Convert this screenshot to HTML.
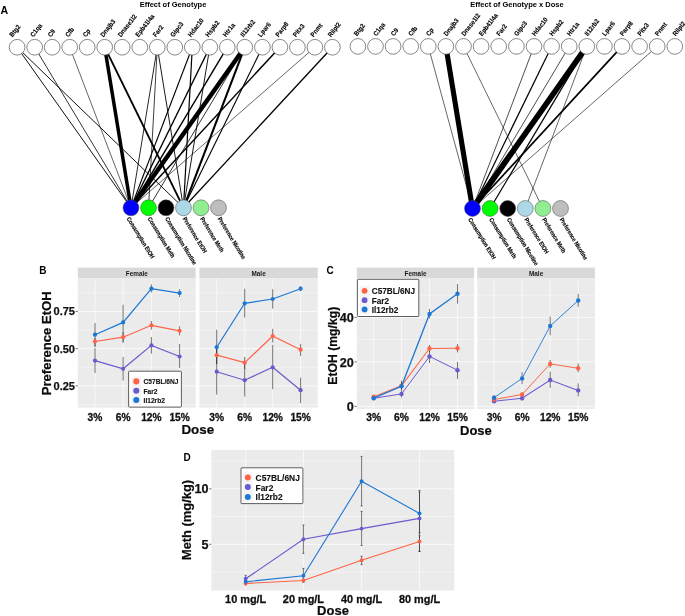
<!DOCTYPE html>
<html><head><meta charset="utf-8"><title>Figure</title>
<style>html,body{margin:0;padding:0;background:#fff;}svg{display:block;will-change:transform;}text{font-family:"Liberation Sans",sans-serif;}</style>
</head><body>
<svg width="685" height="616" viewBox="0 0 685 616">
<rect width="685" height="616" fill="#fff"/>
<text x="173" y="6.6" font-size="7.5" font-weight="bold" text-anchor="middle" font-family="Liberation Sans, sans-serif">Effect of Genotype</text>
<line x1="17.1" y1="47.2" x2="131.0" y2="207.8" stroke="#000" stroke-width="0.93"/>
<line x1="17.1" y1="47.2" x2="183.5" y2="207.8" stroke="#000" stroke-width="0.93"/>
<line x1="34.7" y1="47.2" x2="131.0" y2="207.8" stroke="#000" stroke-width="0.8"/>
<line x1="69.7" y1="47.2" x2="131.0" y2="207.8" stroke="#000" stroke-width="0.6"/>
<line x1="104.7" y1="47.2" x2="131.0" y2="207.8" stroke="#000" stroke-width="3.5"/>
<line x1="104.7" y1="47.2" x2="183.5" y2="207.8" stroke="#000" stroke-width="1.86"/>
<line x1="157.3" y1="47.2" x2="131.0" y2="207.8" stroke="#000" stroke-width="0.85"/>
<line x1="157.3" y1="47.2" x2="148.5" y2="207.8" stroke="#000" stroke-width="0.75"/>
<line x1="157.3" y1="47.2" x2="183.5" y2="207.8" stroke="#000" stroke-width="0.9"/>
<line x1="192.3" y1="47.2" x2="131.0" y2="207.8" stroke="#000" stroke-width="1.12"/>
<line x1="192.3" y1="47.2" x2="183.5" y2="207.8" stroke="#000" stroke-width="1.21"/>
<line x1="209.8" y1="47.2" x2="131.0" y2="207.8" stroke="#000" stroke-width="1.4"/>
<line x1="209.8" y1="47.2" x2="183.5" y2="207.8" stroke="#000" stroke-width="0.9"/>
<line x1="227.3" y1="47.2" x2="131.0" y2="207.8" stroke="#000" stroke-width="1.4"/>
<line x1="244.8" y1="47.2" x2="131.0" y2="207.8" stroke="#000" stroke-width="4.5"/>
<line x1="244.8" y1="47.2" x2="183.5" y2="207.8" stroke="#000" stroke-width="2.05"/>
<line x1="244.8" y1="47.2" x2="148.5" y2="207.8" stroke="#000" stroke-width="0.8"/>
<line x1="262.4" y1="47.2" x2="183.5" y2="207.8" stroke="#000" stroke-width="1.12"/>
<line x1="279.9" y1="47.2" x2="131.0" y2="207.8" stroke="#000" stroke-width="1.49"/>
<line x1="314.9" y1="47.2" x2="131.0" y2="207.8" stroke="#000" stroke-width="0.6"/>
<line x1="332.4" y1="47.2" x2="183.5" y2="207.8" stroke="#000" stroke-width="1.3"/>
<circle cx="17.1" cy="47.25" r="7.85" fill="#fff" stroke="#555" stroke-width="0.7"/>
<text transform="translate(12.6,37.4) rotate(-52) scale(0.9,1)" font-size="6.7" font-weight="bold" stroke="#000" stroke-width="0.12" font-family="Liberation Sans, sans-serif">Btg2</text>
<circle cx="34.7" cy="47.25" r="7.85" fill="#fff" stroke="#555" stroke-width="0.7"/>
<text transform="translate(33.4,37.4) rotate(-52) scale(0.9,1)" font-size="6.7" font-weight="bold" stroke="#000" stroke-width="0.12" font-family="Liberation Sans, sans-serif">C1qa</text>
<circle cx="52.2" cy="47.25" r="7.85" fill="#fff" stroke="#555" stroke-width="0.7"/>
<text transform="translate(50.9,37.4) rotate(-52) scale(0.9,1)" font-size="6.7" font-weight="bold" stroke="#000" stroke-width="0.12" font-family="Liberation Sans, sans-serif">C9</text>
<circle cx="69.7" cy="47.25" r="7.85" fill="#fff" stroke="#555" stroke-width="0.7"/>
<text transform="translate(68.4,37.4) rotate(-52) scale(0.9,1)" font-size="6.7" font-weight="bold" stroke="#000" stroke-width="0.12" font-family="Liberation Sans, sans-serif">Cfb</text>
<circle cx="87.2" cy="47.25" r="7.85" fill="#fff" stroke="#555" stroke-width="0.7"/>
<text transform="translate(85.9,37.4) rotate(-52) scale(0.9,1)" font-size="6.7" font-weight="bold" stroke="#000" stroke-width="0.12" font-family="Liberation Sans, sans-serif">Cp</text>
<circle cx="104.7" cy="47.25" r="7.85" fill="#fff" stroke="#555" stroke-width="0.7"/>
<text transform="translate(103.4,37.4) rotate(-52) scale(0.9,1)" font-size="6.7" font-weight="bold" stroke="#000" stroke-width="0.12" font-family="Liberation Sans, sans-serif">Dnajb3</text>
<circle cx="122.2" cy="47.25" r="7.85" fill="#fff" stroke="#555" stroke-width="0.7"/>
<text transform="translate(120.9,37.4) rotate(-52) scale(0.9,1)" font-size="6.7" font-weight="bold" stroke="#000" stroke-width="0.12" font-family="Liberation Sans, sans-serif">Dnase1l2</text>
<circle cx="139.8" cy="47.25" r="7.85" fill="#fff" stroke="#555" stroke-width="0.7"/>
<text transform="translate(138.5,37.4) rotate(-52) scale(0.9,1)" font-size="6.7" font-weight="bold" stroke="#000" stroke-width="0.12" font-family="Liberation Sans, sans-serif">Epb41l4a</text>
<circle cx="157.3" cy="47.25" r="7.85" fill="#fff" stroke="#555" stroke-width="0.7"/>
<text transform="translate(156.0,37.4) rotate(-52) scale(0.9,1)" font-size="6.7" font-weight="bold" stroke="#000" stroke-width="0.12" font-family="Liberation Sans, sans-serif">Far2</text>
<circle cx="174.8" cy="47.25" r="7.85" fill="#fff" stroke="#555" stroke-width="0.7"/>
<text transform="translate(173.5,37.4) rotate(-52) scale(0.9,1)" font-size="6.7" font-weight="bold" stroke="#000" stroke-width="0.12" font-family="Liberation Sans, sans-serif">Gipc3</text>
<circle cx="192.3" cy="47.25" r="7.85" fill="#fff" stroke="#555" stroke-width="0.7"/>
<text transform="translate(191.0,37.4) rotate(-52) scale(0.9,1)" font-size="6.7" font-weight="bold" stroke="#000" stroke-width="0.12" font-family="Liberation Sans, sans-serif">Hdac10</text>
<circle cx="209.8" cy="47.25" r="7.85" fill="#fff" stroke="#555" stroke-width="0.7"/>
<text transform="translate(208.5,37.4) rotate(-52) scale(0.9,1)" font-size="6.7" font-weight="bold" stroke="#000" stroke-width="0.12" font-family="Liberation Sans, sans-serif">Hspb2</text>
<circle cx="227.3" cy="47.25" r="7.85" fill="#fff" stroke="#555" stroke-width="0.7"/>
<text transform="translate(226.0,37.4) rotate(-52) scale(0.9,1)" font-size="6.7" font-weight="bold" stroke="#000" stroke-width="0.12" font-family="Liberation Sans, sans-serif">Htr1a</text>
<circle cx="244.8" cy="47.25" r="7.85" fill="#fff" stroke="#555" stroke-width="0.7"/>
<text transform="translate(243.5,37.4) rotate(-52) scale(0.9,1)" font-size="6.7" font-weight="bold" stroke="#000" stroke-width="0.12" font-family="Liberation Sans, sans-serif">Il12rb2</text>
<circle cx="262.4" cy="47.25" r="7.85" fill="#fff" stroke="#555" stroke-width="0.7"/>
<text transform="translate(261.1,37.4) rotate(-52) scale(0.9,1)" font-size="6.7" font-weight="bold" stroke="#000" stroke-width="0.12" font-family="Liberation Sans, sans-serif">Lpar6</text>
<circle cx="279.9" cy="47.25" r="7.85" fill="#fff" stroke="#555" stroke-width="0.7"/>
<text transform="translate(278.6,37.4) rotate(-52) scale(0.9,1)" font-size="6.7" font-weight="bold" stroke="#000" stroke-width="0.12" font-family="Liberation Sans, sans-serif">Parp8</text>
<circle cx="297.4" cy="47.25" r="7.85" fill="#fff" stroke="#555" stroke-width="0.7"/>
<text transform="translate(296.1,37.4) rotate(-52) scale(0.9,1)" font-size="6.7" font-weight="bold" stroke="#000" stroke-width="0.12" font-family="Liberation Sans, sans-serif">Pitx3</text>
<circle cx="314.9" cy="47.25" r="7.85" fill="#fff" stroke="#555" stroke-width="0.7"/>
<text transform="translate(313.6,37.4) rotate(-52) scale(0.9,1)" font-size="6.7" font-weight="bold" stroke="#000" stroke-width="0.12" font-family="Liberation Sans, sans-serif">Pnmt</text>
<circle cx="332.4" cy="47.25" r="7.85" fill="#fff" stroke="#555" stroke-width="0.7"/>
<text transform="translate(331.1,37.4) rotate(-52) scale(0.9,1)" font-size="6.7" font-weight="bold" stroke="#000" stroke-width="0.12" font-family="Liberation Sans, sans-serif">Rilpl2</text>
<circle cx="131.0" cy="207.8" r="7.95" fill="#0000FF" stroke="#444" stroke-width="0.5"/>
<text transform="translate(126.6,218.7) rotate(58.5) scale(0.84,1)" font-size="6.1" font-weight="bold" stroke="#000" stroke-width="0.15" font-family="Liberation Sans, sans-serif">Consumption EtOH</text>
<circle cx="148.5" cy="207.8" r="7.95" fill="#00FF00" stroke="#444" stroke-width="0.5"/>
<text transform="translate(147.5,218.7) rotate(58.5) scale(0.84,1)" font-size="6.1" font-weight="bold" stroke="#000" stroke-width="0.15" font-family="Liberation Sans, sans-serif">Consumption Meth</text>
<circle cx="166.0" cy="207.8" r="7.95" fill="#000000" stroke="#444" stroke-width="0.5"/>
<text transform="translate(165.0,218.7) rotate(58.5) scale(0.84,1)" font-size="6.1" font-weight="bold" stroke="#000" stroke-width="0.15" font-family="Liberation Sans, sans-serif">Consumption Nicotine</text>
<circle cx="183.5" cy="207.8" r="7.95" fill="#ADD8E6" stroke="#444" stroke-width="0.5"/>
<text transform="translate(182.5,218.7) rotate(58.5) scale(0.84,1)" font-size="6.1" font-weight="bold" stroke="#000" stroke-width="0.15" font-family="Liberation Sans, sans-serif">Preference EtOH</text>
<circle cx="201.0" cy="207.8" r="7.95" fill="#90EE90" stroke="#444" stroke-width="0.5"/>
<text transform="translate(200.0,218.7) rotate(58.5) scale(0.84,1)" font-size="6.1" font-weight="bold" stroke="#000" stroke-width="0.15" font-family="Liberation Sans, sans-serif">Preference Meth</text>
<circle cx="218.5" cy="207.8" r="7.95" fill="#BEBEBE" stroke="#444" stroke-width="0.5"/>
<text transform="translate(217.5,218.7) rotate(58.5) scale(0.84,1)" font-size="6.1" font-weight="bold" stroke="#000" stroke-width="0.15" font-family="Liberation Sans, sans-serif">Preference Nicotine</text>
<text x="517" y="6.6" font-size="7.5" font-weight="bold" text-anchor="middle" font-family="Liberation Sans, sans-serif">Effect of Genotype x Dose</text>
<line x1="428.3" y1="46.4" x2="472.5" y2="208.5" stroke="#000" stroke-width="0.6"/>
<line x1="445.9" y1="46.4" x2="472.5" y2="208.5" stroke="#000" stroke-width="5.1"/>
<line x1="463.5" y1="46.4" x2="542.9" y2="208.5" stroke="#000" stroke-width="0.6"/>
<line x1="534.0" y1="46.4" x2="472.5" y2="208.5" stroke="#000" stroke-width="0.7"/>
<line x1="551.6" y1="46.4" x2="472.5" y2="208.5" stroke="#000" stroke-width="1.21"/>
<line x1="569.2" y1="46.4" x2="472.5" y2="208.5" stroke="#000" stroke-width="0.7"/>
<line x1="586.8" y1="46.4" x2="472.5" y2="208.5" stroke="#000" stroke-width="5.7"/>
<line x1="586.8" y1="46.4" x2="490.1" y2="208.5" stroke="#000" stroke-width="1.21"/>
<line x1="586.8" y1="46.4" x2="525.3" y2="208.5" stroke="#000" stroke-width="0.6"/>
<line x1="622.0" y1="46.4" x2="472.5" y2="208.5" stroke="#000" stroke-width="1.67"/>
<line x1="657.2" y1="46.4" x2="472.5" y2="208.5" stroke="#000" stroke-width="0.6"/>
<circle cx="357.9" cy="46.4" r="7.85" fill="#fff" stroke="#555" stroke-width="0.7"/>
<text transform="translate(357.0,36.5) rotate(-52) scale(0.9,1)" font-size="6.7" font-weight="bold" stroke="#000" stroke-width="0.12" font-family="Liberation Sans, sans-serif">Btg2</text>
<circle cx="375.5" cy="46.4" r="7.85" fill="#fff" stroke="#555" stroke-width="0.7"/>
<text transform="translate(376.4,36.5) rotate(-52) scale(0.9,1)" font-size="6.7" font-weight="bold" stroke="#000" stroke-width="0.12" font-family="Liberation Sans, sans-serif">C1qa</text>
<circle cx="393.1" cy="46.4" r="7.85" fill="#fff" stroke="#555" stroke-width="0.7"/>
<text transform="translate(394.0,36.5) rotate(-52) scale(0.9,1)" font-size="6.7" font-weight="bold" stroke="#000" stroke-width="0.12" font-family="Liberation Sans, sans-serif">C9</text>
<circle cx="410.7" cy="46.4" r="7.85" fill="#fff" stroke="#555" stroke-width="0.7"/>
<text transform="translate(411.6,36.5) rotate(-52) scale(0.9,1)" font-size="6.7" font-weight="bold" stroke="#000" stroke-width="0.12" font-family="Liberation Sans, sans-serif">Cfb</text>
<circle cx="428.3" cy="46.4" r="7.85" fill="#fff" stroke="#555" stroke-width="0.7"/>
<text transform="translate(429.2,36.5) rotate(-52) scale(0.9,1)" font-size="6.7" font-weight="bold" stroke="#000" stroke-width="0.12" font-family="Liberation Sans, sans-serif">Cp</text>
<circle cx="445.9" cy="46.4" r="7.85" fill="#fff" stroke="#555" stroke-width="0.7"/>
<text transform="translate(446.8,36.5) rotate(-52) scale(0.9,1)" font-size="6.7" font-weight="bold" stroke="#000" stroke-width="0.12" font-family="Liberation Sans, sans-serif">Dnajb3</text>
<circle cx="463.5" cy="46.4" r="7.85" fill="#fff" stroke="#555" stroke-width="0.7"/>
<text transform="translate(464.4,36.5) rotate(-52) scale(0.9,1)" font-size="6.7" font-weight="bold" stroke="#000" stroke-width="0.12" font-family="Liberation Sans, sans-serif">Dnase1l2</text>
<circle cx="481.1" cy="46.4" r="7.85" fill="#fff" stroke="#555" stroke-width="0.7"/>
<text transform="translate(482.0,36.5) rotate(-52) scale(0.9,1)" font-size="6.7" font-weight="bold" stroke="#000" stroke-width="0.12" font-family="Liberation Sans, sans-serif">Epb41l4a</text>
<circle cx="498.7" cy="46.4" r="7.85" fill="#fff" stroke="#555" stroke-width="0.7"/>
<text transform="translate(499.6,36.5) rotate(-52) scale(0.9,1)" font-size="6.7" font-weight="bold" stroke="#000" stroke-width="0.12" font-family="Liberation Sans, sans-serif">Far2</text>
<circle cx="516.4" cy="46.4" r="7.85" fill="#fff" stroke="#555" stroke-width="0.7"/>
<text transform="translate(517.3,36.5) rotate(-52) scale(0.9,1)" font-size="6.7" font-weight="bold" stroke="#000" stroke-width="0.12" font-family="Liberation Sans, sans-serif">Gipc3</text>
<circle cx="534.0" cy="46.4" r="7.85" fill="#fff" stroke="#555" stroke-width="0.7"/>
<text transform="translate(534.9,36.5) rotate(-52) scale(0.9,1)" font-size="6.7" font-weight="bold" stroke="#000" stroke-width="0.12" font-family="Liberation Sans, sans-serif">Hdac10</text>
<circle cx="551.6" cy="46.4" r="7.85" fill="#fff" stroke="#555" stroke-width="0.7"/>
<text transform="translate(552.5,36.5) rotate(-52) scale(0.9,1)" font-size="6.7" font-weight="bold" stroke="#000" stroke-width="0.12" font-family="Liberation Sans, sans-serif">Hspb2</text>
<circle cx="569.2" cy="46.4" r="7.85" fill="#fff" stroke="#555" stroke-width="0.7"/>
<text transform="translate(570.1,36.5) rotate(-52) scale(0.9,1)" font-size="6.7" font-weight="bold" stroke="#000" stroke-width="0.12" font-family="Liberation Sans, sans-serif">Htr1a</text>
<circle cx="586.8" cy="46.4" r="7.85" fill="#fff" stroke="#555" stroke-width="0.7"/>
<text transform="translate(587.7,36.5) rotate(-52) scale(0.9,1)" font-size="6.7" font-weight="bold" stroke="#000" stroke-width="0.12" font-family="Liberation Sans, sans-serif">Il12rb2</text>
<circle cx="604.4" cy="46.4" r="7.85" fill="#fff" stroke="#555" stroke-width="0.7"/>
<text transform="translate(605.3,36.5) rotate(-52) scale(0.9,1)" font-size="6.7" font-weight="bold" stroke="#000" stroke-width="0.12" font-family="Liberation Sans, sans-serif">Lpar6</text>
<circle cx="622.0" cy="46.4" r="7.85" fill="#fff" stroke="#555" stroke-width="0.7"/>
<text transform="translate(622.9,36.5) rotate(-52) scale(0.9,1)" font-size="6.7" font-weight="bold" stroke="#000" stroke-width="0.12" font-family="Liberation Sans, sans-serif">Parp8</text>
<circle cx="639.6" cy="46.4" r="7.85" fill="#fff" stroke="#555" stroke-width="0.7"/>
<text transform="translate(640.5,36.5) rotate(-52) scale(0.9,1)" font-size="6.7" font-weight="bold" stroke="#000" stroke-width="0.12" font-family="Liberation Sans, sans-serif">Pitx3</text>
<circle cx="657.2" cy="46.4" r="7.85" fill="#fff" stroke="#555" stroke-width="0.7"/>
<text transform="translate(658.1,36.5) rotate(-52) scale(0.9,1)" font-size="6.7" font-weight="bold" stroke="#000" stroke-width="0.12" font-family="Liberation Sans, sans-serif">Pnmt</text>
<circle cx="674.8" cy="46.4" r="7.85" fill="#fff" stroke="#555" stroke-width="0.7"/>
<text transform="translate(675.7,36.5) rotate(-52) scale(0.9,1)" font-size="6.7" font-weight="bold" stroke="#000" stroke-width="0.12" font-family="Liberation Sans, sans-serif">Rilpl2</text>
<circle cx="472.5" cy="208.5" r="7.95" fill="#0000FF" stroke="#444" stroke-width="0.5"/>
<text transform="translate(468.1,219.4) rotate(58.5) scale(0.84,1)" font-size="6.1" font-weight="bold" stroke="#000" stroke-width="0.15" font-family="Liberation Sans, sans-serif">Consumption EtOH</text>
<circle cx="490.1" cy="208.5" r="7.95" fill="#00FF00" stroke="#444" stroke-width="0.5"/>
<text transform="translate(489.1,219.4) rotate(58.5) scale(0.84,1)" font-size="6.1" font-weight="bold" stroke="#000" stroke-width="0.15" font-family="Liberation Sans, sans-serif">Consumption Meth</text>
<circle cx="507.7" cy="208.5" r="7.95" fill="#000000" stroke="#444" stroke-width="0.5"/>
<text transform="translate(506.7,219.4) rotate(58.5) scale(0.84,1)" font-size="6.1" font-weight="bold" stroke="#000" stroke-width="0.15" font-family="Liberation Sans, sans-serif">Consumption Nicotine</text>
<circle cx="525.3" cy="208.5" r="7.95" fill="#ADD8E6" stroke="#444" stroke-width="0.5"/>
<text transform="translate(524.3,219.4) rotate(58.5) scale(0.84,1)" font-size="6.1" font-weight="bold" stroke="#000" stroke-width="0.15" font-family="Liberation Sans, sans-serif">Preference EtOH</text>
<circle cx="542.9" cy="208.5" r="7.95" fill="#90EE90" stroke="#444" stroke-width="0.5"/>
<text transform="translate(541.9,219.4) rotate(58.5) scale(0.84,1)" font-size="6.1" font-weight="bold" stroke="#000" stroke-width="0.15" font-family="Liberation Sans, sans-serif">Preference Meth</text>
<circle cx="560.5" cy="208.5" r="7.95" fill="#BEBEBE" stroke="#444" stroke-width="0.5"/>
<text transform="translate(559.5,219.4) rotate(58.5) scale(0.84,1)" font-size="6.1" font-weight="bold" stroke="#000" stroke-width="0.15" font-family="Liberation Sans, sans-serif">Preference Nicotine</text>
<text x="0.4" y="14.2" font-size="10.6" font-weight="bold" font-family="Liberation Sans, sans-serif">A</text>
<text x="39.2" y="274.2" font-size="10" font-weight="bold" font-family="Liberation Sans, sans-serif">B</text>
<rect x="77.8" y="267.6" width="117.9" height="10.8" fill="#D9D9D9"/>
<text x="136.8" y="276.1" font-size="6.4" font-weight="bold" fill="#1a1a1a" text-anchor="middle" font-family="Liberation Sans, sans-serif">Female</text>
<rect x="199.4" y="267.6" width="118.3" height="10.8" fill="#D9D9D9"/>
<text x="258.6" y="276.1" font-size="6.4" font-weight="bold" fill="#1a1a1a" text-anchor="middle" font-family="Liberation Sans, sans-serif">Male</text>
<rect x="77.8" y="278.4" width="117.9" height="129.2" fill="#EBEBEB"/>
<line x1="77.8" x2="195.7" y1="292.8" y2="292.8" stroke="#fff" stroke-width="0.45"/>
<line x1="77.8" x2="195.7" y1="330.0" y2="330.0" stroke="#fff" stroke-width="0.45"/>
<line x1="77.8" x2="195.7" y1="367.2" y2="367.2" stroke="#fff" stroke-width="0.45"/>
<line x1="77.8" x2="195.7" y1="404.5" y2="404.5" stroke="#fff" stroke-width="0.45"/>
<line x1="77.8" x2="195.7" y1="311.4" y2="311.4" stroke="#fff" stroke-width="0.75"/>
<line x1="77.8" x2="195.7" y1="348.6" y2="348.6" stroke="#fff" stroke-width="0.75"/>
<line x1="77.8" x2="195.7" y1="385.9" y2="385.9" stroke="#fff" stroke-width="0.75"/>
<line x1="95.0" x2="95.0" y1="278.4" y2="407.6" stroke="#fff" stroke-width="0.65"/>
<line x1="123.1" x2="123.1" y1="278.4" y2="407.6" stroke="#fff" stroke-width="0.65"/>
<line x1="151.4" x2="151.4" y1="278.4" y2="407.6" stroke="#fff" stroke-width="0.65"/>
<line x1="179.6" x2="179.6" y1="278.4" y2="407.6" stroke="#fff" stroke-width="0.65"/>
<rect x="199.4" y="278.4" width="118.3" height="129.2" fill="#EBEBEB"/>
<line x1="199.4" x2="317.7" y1="292.8" y2="292.8" stroke="#fff" stroke-width="0.45"/>
<line x1="199.4" x2="317.7" y1="330.0" y2="330.0" stroke="#fff" stroke-width="0.45"/>
<line x1="199.4" x2="317.7" y1="367.2" y2="367.2" stroke="#fff" stroke-width="0.45"/>
<line x1="199.4" x2="317.7" y1="404.5" y2="404.5" stroke="#fff" stroke-width="0.45"/>
<line x1="199.4" x2="317.7" y1="311.4" y2="311.4" stroke="#fff" stroke-width="0.75"/>
<line x1="199.4" x2="317.7" y1="348.6" y2="348.6" stroke="#fff" stroke-width="0.75"/>
<line x1="199.4" x2="317.7" y1="385.9" y2="385.9" stroke="#fff" stroke-width="0.75"/>
<line x1="216.7" x2="216.7" y1="278.4" y2="407.6" stroke="#fff" stroke-width="0.65"/>
<line x1="244.7" x2="244.7" y1="278.4" y2="407.6" stroke="#fff" stroke-width="0.65"/>
<line x1="272.7" x2="272.7" y1="278.4" y2="407.6" stroke="#fff" stroke-width="0.65"/>
<line x1="300.6" x2="300.6" y1="278.4" y2="407.6" stroke="#fff" stroke-width="0.65"/>
<line x1="95.0" x2="95.0" y1="323.0" y2="346.7" stroke="#303030" stroke-width="0.65"/>
<line x1="123.1" x2="123.1" y1="304.8" y2="342.0" stroke="#303030" stroke-width="0.65"/>
<line x1="151.4" x2="151.4" y1="284.4" y2="292.4" stroke="#303030" stroke-width="0.65"/>
<line x1="179.6" x2="179.6" y1="289.2" y2="297.0" stroke="#303030" stroke-width="0.65"/>
<line x1="95.0" x2="95.0" y1="338.0" y2="346.7" stroke="#303030" stroke-width="0.65"/>
<line x1="123.1" x2="123.1" y1="332.0" y2="342.8" stroke="#303030" stroke-width="0.65"/>
<line x1="151.4" x2="151.4" y1="321.0" y2="329.6" stroke="#303030" stroke-width="0.65"/>
<line x1="179.6" x2="179.6" y1="326.3" y2="335.4" stroke="#303030" stroke-width="0.65"/>
<line x1="95.0" x2="95.0" y1="348.0" y2="373.0" stroke="#303030" stroke-width="0.65"/>
<line x1="123.1" x2="123.1" y1="357.0" y2="380.5" stroke="#303030" stroke-width="0.65"/>
<line x1="151.4" x2="151.4" y1="337.0" y2="353.6" stroke="#303030" stroke-width="0.65"/>
<line x1="179.6" x2="179.6" y1="344.0" y2="368.0" stroke="#303030" stroke-width="0.65"/>
<line x1="216.7" x2="216.7" y1="329.7" y2="364.0" stroke="#303030" stroke-width="0.65"/>
<line x1="244.7" x2="244.7" y1="288.8" y2="317.5" stroke="#303030" stroke-width="0.65"/>
<line x1="272.7" x2="272.7" y1="289.2" y2="308.7" stroke="#303030" stroke-width="0.65"/>
<line x1="300.6" x2="300.6" y1="286.3" y2="291.2" stroke="#303030" stroke-width="0.65"/>
<line x1="216.7" x2="216.7" y1="346.0" y2="364.0" stroke="#303030" stroke-width="0.65"/>
<line x1="244.7" x2="244.7" y1="357.0" y2="369.0" stroke="#303030" stroke-width="0.65"/>
<line x1="272.7" x2="272.7" y1="328.8" y2="342.4" stroke="#303030" stroke-width="0.65"/>
<line x1="300.6" x2="300.6" y1="343.8" y2="356.0" stroke="#303030" stroke-width="0.65"/>
<line x1="216.7" x2="216.7" y1="349.0" y2="394.7" stroke="#303030" stroke-width="0.65"/>
<line x1="244.7" x2="244.7" y1="364.0" y2="396.6" stroke="#303030" stroke-width="0.65"/>
<line x1="272.7" x2="272.7" y1="345.0" y2="389.2" stroke="#303030" stroke-width="0.65"/>
<line x1="300.6" x2="300.6" y1="377.7" y2="403.2" stroke="#303030" stroke-width="0.65"/>
<polyline points="95.0,360.6 123.1,368.8 151.4,345.4 179.6,356.5" fill="none" stroke="#6A5ACD" stroke-width="1.2"/>
<circle cx="95.0" cy="360.6" r="2.1" fill="#6A5ACD"/>
<circle cx="123.1" cy="368.8" r="2.1" fill="#6A5ACD"/>
<circle cx="151.4" cy="345.4" r="2.1" fill="#6A5ACD"/>
<circle cx="179.6" cy="356.5" r="2.1" fill="#6A5ACD"/>
<polyline points="95.0,341.5 123.1,337.2 151.4,325.3 179.6,330.8" fill="none" stroke="#FF6347" stroke-width="1.2"/>
<circle cx="95.0" cy="341.5" r="2.1" fill="#FF6347"/>
<circle cx="123.1" cy="337.2" r="2.1" fill="#FF6347"/>
<circle cx="151.4" cy="325.3" r="2.1" fill="#FF6347"/>
<circle cx="179.6" cy="330.8" r="2.1" fill="#FF6347"/>
<polyline points="95.0,334.7 123.1,322.4 151.4,288.7 179.6,293.1" fill="none" stroke="#1C78D4" stroke-width="1.2"/>
<circle cx="95.0" cy="334.7" r="2.1" fill="#1C78D4"/>
<circle cx="123.1" cy="322.4" r="2.1" fill="#1C78D4"/>
<circle cx="151.4" cy="288.7" r="2.1" fill="#1C78D4"/>
<circle cx="179.6" cy="293.1" r="2.1" fill="#1C78D4"/>
<polyline points="216.7,371.7 244.7,380.2 272.7,367.3 300.6,390.2" fill="none" stroke="#6A5ACD" stroke-width="1.2"/>
<circle cx="216.7" cy="371.7" r="2.1" fill="#6A5ACD"/>
<circle cx="244.7" cy="380.2" r="2.1" fill="#6A5ACD"/>
<circle cx="272.7" cy="367.3" r="2.1" fill="#6A5ACD"/>
<circle cx="300.6" cy="390.2" r="2.1" fill="#6A5ACD"/>
<polyline points="216.7,355.2 244.7,362.7 272.7,336.0 300.6,349.7" fill="none" stroke="#FF6347" stroke-width="1.2"/>
<circle cx="216.7" cy="355.2" r="2.1" fill="#FF6347"/>
<circle cx="244.7" cy="362.7" r="2.1" fill="#FF6347"/>
<circle cx="272.7" cy="336.0" r="2.1" fill="#FF6347"/>
<circle cx="300.6" cy="349.7" r="2.1" fill="#FF6347"/>
<polyline points="216.7,347.2 244.7,303.3 272.7,299.0 300.6,288.7" fill="none" stroke="#1C78D4" stroke-width="1.2"/>
<circle cx="216.7" cy="347.2" r="2.1" fill="#1C78D4"/>
<circle cx="244.7" cy="303.3" r="2.1" fill="#1C78D4"/>
<circle cx="272.7" cy="299.0" r="2.1" fill="#1C78D4"/>
<circle cx="300.6" cy="288.7" r="2.1" fill="#1C78D4"/>
<rect x="128.6" y="371.2" width="52.8" height="35.9" rx="0.8" fill="#fff" stroke="#4d4d4d" stroke-width="0.9"/>
<rect x="131.6" y="376.7" width="9.4" height="28.2" fill="#F4F4F4"/>
<circle cx="136.3" cy="381.4" r="3.05" fill="#FF6347"/>
<text x="143.6" y="384.3" font-size="6.6" font-weight="bold" fill="#111" stroke="#111" stroke-width="0.12" font-family="Liberation Sans, sans-serif">C57BL/6NJ</text>
<circle cx="136.3" cy="390.8" r="3.05" fill="#6A5ACD"/>
<text x="143.6" y="393.7" font-size="6.6" font-weight="bold" fill="#111" stroke="#111" stroke-width="0.12" font-family="Liberation Sans, sans-serif">Far2</text>
<circle cx="136.3" cy="400.0" r="3.05" fill="#1C78D4"/>
<text x="143.6" y="402.9" font-size="6.6" font-weight="bold" fill="#111" stroke="#111" stroke-width="0.12" font-family="Liberation Sans, sans-serif">Il12rb2</text>
<text transform="translate(95.0,420.6) scale(0.93,1)" font-size="11.0" font-weight="bold" fill="#111" stroke="#111" stroke-width="0.3" text-anchor="middle" font-family="Liberation Sans, sans-serif">3%</text>
<text transform="translate(123.1,420.6) scale(0.93,1)" font-size="11.0" font-weight="bold" fill="#111" stroke="#111" stroke-width="0.3" text-anchor="middle" font-family="Liberation Sans, sans-serif">6%</text>
<text transform="translate(151.4,420.6) scale(0.93,1)" font-size="11.0" font-weight="bold" fill="#111" stroke="#111" stroke-width="0.3" text-anchor="middle" font-family="Liberation Sans, sans-serif">12%</text>
<text transform="translate(179.6,420.6) scale(0.93,1)" font-size="11.0" font-weight="bold" fill="#111" stroke="#111" stroke-width="0.3" text-anchor="middle" font-family="Liberation Sans, sans-serif">15%</text>
<text transform="translate(216.7,420.6) scale(0.93,1)" font-size="11.0" font-weight="bold" fill="#111" stroke="#111" stroke-width="0.3" text-anchor="middle" font-family="Liberation Sans, sans-serif">3%</text>
<text transform="translate(244.7,420.6) scale(0.93,1)" font-size="11.0" font-weight="bold" fill="#111" stroke="#111" stroke-width="0.3" text-anchor="middle" font-family="Liberation Sans, sans-serif">6%</text>
<text transform="translate(272.7,420.6) scale(0.93,1)" font-size="11.0" font-weight="bold" fill="#111" stroke="#111" stroke-width="0.3" text-anchor="middle" font-family="Liberation Sans, sans-serif">12%</text>
<text transform="translate(300.6,420.6) scale(0.93,1)" font-size="11.0" font-weight="bold" fill="#111" stroke="#111" stroke-width="0.3" text-anchor="middle" font-family="Liberation Sans, sans-serif">15%</text>
<text x="75.0" y="315.4" font-size="11" font-weight="bold" fill="#111" stroke="#111" stroke-width="0.25" text-anchor="end" font-family="Liberation Sans, sans-serif">0.75</text>
<line x1="75.6" x2="77.8" y1="311.4" y2="311.4" stroke="#333" stroke-width="0.7"/>
<text x="75.0" y="352.6" font-size="11" font-weight="bold" fill="#111" stroke="#111" stroke-width="0.25" text-anchor="end" font-family="Liberation Sans, sans-serif">0.50</text>
<line x1="75.6" x2="77.8" y1="348.6" y2="348.6" stroke="#333" stroke-width="0.7"/>
<text x="75.0" y="389.9" font-size="11" font-weight="bold" fill="#111" stroke="#111" stroke-width="0.25" text-anchor="end" font-family="Liberation Sans, sans-serif">0.25</text>
<line x1="75.6" x2="77.8" y1="385.9" y2="385.9" stroke="#333" stroke-width="0.7"/>
<text transform="translate(50.7,343.3) rotate(-90)" font-size="13.1" font-weight="bold" fill="#0a0a0a" stroke="#0a0a0a" stroke-width="0.2" text-anchor="middle" font-family="Liberation Sans, sans-serif">Preference EtOH</text>
<text x="197.8" y="433.8" font-size="13.4" font-weight="bold" fill="#0a0a0a" stroke="#0a0a0a" stroke-width="0.2" text-anchor="middle" font-family="Liberation Sans, sans-serif">Dose</text>
<text x="326.6" y="274.2" font-size="10" font-weight="bold" font-family="Liberation Sans, sans-serif">C</text>
<rect x="356.8" y="267.6" width="117.3" height="10.8" fill="#D9D9D9"/>
<text x="415.5" y="276.1" font-size="6.4" font-weight="bold" fill="#1a1a1a" text-anchor="middle" font-family="Liberation Sans, sans-serif">Female</text>
<rect x="477.3" y="267.6" width="117.6" height="10.8" fill="#D9D9D9"/>
<text x="536.1" y="276.1" font-size="6.4" font-weight="bold" fill="#1a1a1a" text-anchor="middle" font-family="Liberation Sans, sans-serif">Male</text>
<rect x="356.8" y="278.4" width="117.3" height="130.6" fill="#EBEBEB"/>
<line x1="356.8" x2="474.1" y1="384.1" y2="384.1" stroke="#fff" stroke-width="0.45"/>
<line x1="356.8" x2="474.1" y1="339.6" y2="339.6" stroke="#fff" stroke-width="0.45"/>
<line x1="356.8" x2="474.1" y1="295.1" y2="295.1" stroke="#fff" stroke-width="0.45"/>
<line x1="356.8" x2="474.1" y1="406.4" y2="406.4" stroke="#fff" stroke-width="0.75"/>
<line x1="356.8" x2="474.1" y1="361.9" y2="361.9" stroke="#fff" stroke-width="0.75"/>
<line x1="356.8" x2="474.1" y1="317.4" y2="317.4" stroke="#fff" stroke-width="0.75"/>
<line x1="373.7" x2="373.7" y1="278.4" y2="409.0" stroke="#fff" stroke-width="0.65"/>
<line x1="401.5" x2="401.5" y1="278.4" y2="409.0" stroke="#fff" stroke-width="0.65"/>
<line x1="429.5" x2="429.5" y1="278.4" y2="409.0" stroke="#fff" stroke-width="0.65"/>
<line x1="457.5" x2="457.5" y1="278.4" y2="409.0" stroke="#fff" stroke-width="0.65"/>
<rect x="477.3" y="278.4" width="117.6" height="130.6" fill="#EBEBEB"/>
<line x1="477.3" x2="594.9" y1="384.1" y2="384.1" stroke="#fff" stroke-width="0.45"/>
<line x1="477.3" x2="594.9" y1="339.6" y2="339.6" stroke="#fff" stroke-width="0.45"/>
<line x1="477.3" x2="594.9" y1="295.1" y2="295.1" stroke="#fff" stroke-width="0.45"/>
<line x1="477.3" x2="594.9" y1="406.4" y2="406.4" stroke="#fff" stroke-width="0.75"/>
<line x1="477.3" x2="594.9" y1="361.9" y2="361.9" stroke="#fff" stroke-width="0.75"/>
<line x1="477.3" x2="594.9" y1="317.4" y2="317.4" stroke="#fff" stroke-width="0.75"/>
<line x1="494.1" x2="494.1" y1="278.4" y2="409.0" stroke="#fff" stroke-width="0.65"/>
<line x1="522.1" x2="522.1" y1="278.4" y2="409.0" stroke="#fff" stroke-width="0.65"/>
<line x1="550.2" x2="550.2" y1="278.4" y2="409.0" stroke="#fff" stroke-width="0.65"/>
<line x1="578.2" x2="578.2" y1="278.4" y2="409.0" stroke="#fff" stroke-width="0.65"/>
<line x1="373.7" x2="373.7" y1="396.5" y2="400.0" stroke="#303030" stroke-width="0.65"/>
<line x1="401.5" x2="401.5" y1="380.7" y2="389.8" stroke="#303030" stroke-width="0.65"/>
<line x1="429.5" x2="429.5" y1="308.8" y2="318.4" stroke="#303030" stroke-width="0.65"/>
<line x1="457.5" x2="457.5" y1="284.1" y2="303.6" stroke="#303030" stroke-width="0.65"/>
<line x1="373.7" x2="373.7" y1="395.3" y2="398.6" stroke="#303030" stroke-width="0.65"/>
<line x1="401.5" x2="401.5" y1="382.0" y2="389.8" stroke="#303030" stroke-width="0.65"/>
<line x1="429.5" x2="429.5" y1="344.9" y2="352.1" stroke="#303030" stroke-width="0.65"/>
<line x1="457.5" x2="457.5" y1="344.0" y2="352.4" stroke="#303030" stroke-width="0.65"/>
<line x1="373.7" x2="373.7" y1="396.8" y2="399.8" stroke="#303030" stroke-width="0.65"/>
<line x1="401.5" x2="401.5" y1="389.8" y2="397.6" stroke="#303030" stroke-width="0.65"/>
<line x1="429.5" x2="429.5" y1="350.8" y2="363.0" stroke="#303030" stroke-width="0.65"/>
<line x1="457.5" x2="457.5" y1="362.0" y2="378.9" stroke="#303030" stroke-width="0.65"/>
<line x1="494.1" x2="494.1" y1="395.0" y2="400.2" stroke="#303030" stroke-width="0.65"/>
<line x1="522.1" x2="522.1" y1="372.2" y2="384.2" stroke="#303030" stroke-width="0.65"/>
<line x1="550.2" x2="550.2" y1="316.6" y2="335.3" stroke="#303030" stroke-width="0.65"/>
<line x1="578.2" x2="578.2" y1="293.8" y2="306.8" stroke="#303030" stroke-width="0.65"/>
<line x1="494.1" x2="494.1" y1="398.0" y2="401.0" stroke="#303030" stroke-width="0.65"/>
<line x1="522.1" x2="522.1" y1="392.5" y2="396.5" stroke="#303030" stroke-width="0.65"/>
<line x1="550.2" x2="550.2" y1="360.0" y2="367.8" stroke="#303030" stroke-width="0.65"/>
<line x1="578.2" x2="578.2" y1="363.4" y2="372.2" stroke="#303030" stroke-width="0.65"/>
<line x1="494.1" x2="494.1" y1="399.8" y2="402.8" stroke="#303030" stroke-width="0.65"/>
<line x1="522.1" x2="522.1" y1="396.0" y2="400.4" stroke="#303030" stroke-width="0.65"/>
<line x1="550.2" x2="550.2" y1="371.7" y2="387.8" stroke="#303030" stroke-width="0.65"/>
<line x1="578.2" x2="578.2" y1="383.4" y2="396.4" stroke="#303030" stroke-width="0.65"/>
<polyline points="373.7,398.3 401.5,393.9 429.5,356.4 457.5,370.2" fill="none" stroke="#6A5ACD" stroke-width="1.0"/>
<circle cx="373.7" cy="398.3" r="2.2" fill="#6A5ACD"/>
<circle cx="401.5" cy="393.9" r="2.2" fill="#6A5ACD"/>
<circle cx="429.5" cy="356.4" r="2.2" fill="#6A5ACD"/>
<circle cx="457.5" cy="370.2" r="2.2" fill="#6A5ACD"/>
<polyline points="373.7,396.8 401.5,385.7 429.5,348.4 457.5,348.2" fill="none" stroke="#FF6347" stroke-width="1.05"/>
<circle cx="373.7" cy="396.8" r="2.2" fill="#FF6347"/>
<circle cx="401.5" cy="385.7" r="2.2" fill="#FF6347"/>
<circle cx="429.5" cy="348.4" r="2.2" fill="#FF6347"/>
<circle cx="457.5" cy="348.2" r="2.2" fill="#FF6347"/>
<polyline points="373.7,398.1 401.5,386.3 429.5,314.0 457.5,293.7" fill="none" stroke="#1C78D4" stroke-width="1.3"/>
<circle cx="373.7" cy="398.1" r="2.2" fill="#1C78D4"/>
<circle cx="401.5" cy="386.3" r="2.2" fill="#1C78D4"/>
<circle cx="429.5" cy="314.0" r="2.2" fill="#1C78D4"/>
<circle cx="457.5" cy="293.7" r="2.2" fill="#1C78D4"/>
<polyline points="494.1,401.3 522.1,398.2 550.2,380.0 578.2,390.4" fill="none" stroke="#6A5ACD" stroke-width="1.1"/>
<circle cx="494.1" cy="401.3" r="2.2" fill="#6A5ACD"/>
<circle cx="522.1" cy="398.2" r="2.2" fill="#6A5ACD"/>
<circle cx="550.2" cy="380.0" r="2.2" fill="#6A5ACD"/>
<circle cx="578.2" cy="390.4" r="2.2" fill="#6A5ACD"/>
<polyline points="494.1,399.5 522.1,394.5 550.2,363.9 578.2,368.3" fill="none" stroke="#FF6347" stroke-width="1.0"/>
<circle cx="494.1" cy="399.5" r="2.2" fill="#FF6347"/>
<circle cx="522.1" cy="394.5" r="2.2" fill="#FF6347"/>
<circle cx="550.2" cy="363.9" r="2.2" fill="#FF6347"/>
<circle cx="578.2" cy="368.3" r="2.2" fill="#FF6347"/>
<polyline points="494.1,397.7 522.1,378.4 550.2,326.0 578.2,300.5" fill="none" stroke="#1C78D4" stroke-width="0.9"/>
<circle cx="494.1" cy="397.7" r="2.2" fill="#1C78D4"/>
<circle cx="522.1" cy="378.4" r="2.2" fill="#1C78D4"/>
<circle cx="550.2" cy="326.0" r="2.2" fill="#1C78D4"/>
<circle cx="578.2" cy="300.5" r="2.2" fill="#1C78D4"/>
<rect x="357.4" y="279.3" width="61.4" height="37.2" rx="0.8" fill="#fff" stroke="#4d4d4d" stroke-width="0.9"/>
<rect x="359.9" y="286.1" width="9.4" height="28.2" fill="#F4F4F4"/>
<circle cx="364.6" cy="290.8" r="2.9" fill="#FF6347"/>
<text x="371.8" y="294.3" font-size="8.2" font-weight="bold" fill="#111" stroke="#111" stroke-width="0.12" font-family="Liberation Sans, sans-serif">C57BL/6NJ</text>
<circle cx="364.6" cy="300.2" r="2.9" fill="#6A5ACD"/>
<text x="371.8" y="303.7" font-size="8.2" font-weight="bold" fill="#111" stroke="#111" stroke-width="0.12" font-family="Liberation Sans, sans-serif">Far2</text>
<circle cx="364.6" cy="309.4" r="2.9" fill="#1C78D4"/>
<text x="371.8" y="312.9" font-size="8.2" font-weight="bold" fill="#111" stroke="#111" stroke-width="0.12" font-family="Liberation Sans, sans-serif">Il12rb2</text>
<text transform="translate(373.7,421.1) scale(0.96,1)" font-size="10.7" font-weight="bold" fill="#111" stroke="#111" stroke-width="0.3" text-anchor="middle" font-family="Liberation Sans, sans-serif">3%</text>
<text transform="translate(401.5,421.1) scale(0.96,1)" font-size="10.7" font-weight="bold" fill="#111" stroke="#111" stroke-width="0.3" text-anchor="middle" font-family="Liberation Sans, sans-serif">6%</text>
<text transform="translate(429.5,421.1) scale(0.96,1)" font-size="10.7" font-weight="bold" fill="#111" stroke="#111" stroke-width="0.3" text-anchor="middle" font-family="Liberation Sans, sans-serif">12%</text>
<text transform="translate(457.5,421.1) scale(0.96,1)" font-size="10.7" font-weight="bold" fill="#111" stroke="#111" stroke-width="0.3" text-anchor="middle" font-family="Liberation Sans, sans-serif">15%</text>
<text transform="translate(494.1,421.1) scale(0.96,1)" font-size="10.7" font-weight="bold" fill="#111" stroke="#111" stroke-width="0.3" text-anchor="middle" font-family="Liberation Sans, sans-serif">3%</text>
<text transform="translate(522.1,421.1) scale(0.96,1)" font-size="10.7" font-weight="bold" fill="#111" stroke="#111" stroke-width="0.3" text-anchor="middle" font-family="Liberation Sans, sans-serif">6%</text>
<text transform="translate(550.2,421.1) scale(0.96,1)" font-size="10.7" font-weight="bold" fill="#111" stroke="#111" stroke-width="0.3" text-anchor="middle" font-family="Liberation Sans, sans-serif">12%</text>
<text transform="translate(578.2,421.1) scale(0.96,1)" font-size="10.7" font-weight="bold" fill="#111" stroke="#111" stroke-width="0.3" text-anchor="middle" font-family="Liberation Sans, sans-serif">15%</text>
<text x="353.8" y="411.1" font-size="12.6" font-weight="bold" fill="#111" stroke="#111" stroke-width="0.25" text-anchor="end" font-family="Liberation Sans, sans-serif">0</text>
<line x1="354.6" x2="356.8" y1="406.4" y2="406.4" stroke="#333" stroke-width="0.7"/>
<text x="353.8" y="366.6" font-size="12.6" font-weight="bold" fill="#111" stroke="#111" stroke-width="0.25" text-anchor="end" font-family="Liberation Sans, sans-serif">20</text>
<line x1="354.6" x2="356.8" y1="361.9" y2="361.9" stroke="#333" stroke-width="0.7"/>
<text x="353.8" y="322.1" font-size="12.6" font-weight="bold" fill="#111" stroke="#111" stroke-width="0.25" text-anchor="end" font-family="Liberation Sans, sans-serif">40</text>
<line x1="354.6" x2="356.8" y1="317.4" y2="317.4" stroke="#333" stroke-width="0.7"/>
<text transform="translate(337.4,345.7) rotate(-90)" font-size="12.2" font-weight="bold" fill="#0a0a0a" stroke="#0a0a0a" stroke-width="0.2" text-anchor="middle" font-family="Liberation Sans, sans-serif">EtOH (mg/kg)</text>
<text x="475.9" y="434.5" font-size="13" font-weight="bold" fill="#0a0a0a" stroke="#0a0a0a" stroke-width="0.2" text-anchor="middle" font-family="Liberation Sans, sans-serif">Dose</text>
<text x="183.4" y="461.2" font-size="10" font-weight="bold" font-family="Liberation Sans, sans-serif">D</text>
<rect x="211.4" y="450.0" width="242.9" height="140.6" fill="#EBEBEB"/>
<line x1="211.4" x2="454.3" y1="572.0" y2="572.0" stroke="#fff" stroke-width="0.45"/>
<line x1="211.4" x2="454.3" y1="516.5" y2="516.5" stroke="#fff" stroke-width="0.45"/>
<line x1="211.4" x2="454.3" y1="461.0" y2="461.0" stroke="#fff" stroke-width="0.45"/>
<line x1="211.4" x2="454.3" y1="544.3" y2="544.3" stroke="#fff" stroke-width="0.75"/>
<line x1="211.4" x2="454.3" y1="488.8" y2="488.8" stroke="#fff" stroke-width="0.75"/>
<line x1="245.7" x2="245.7" y1="450.0" y2="590.6" stroke="#fff" stroke-width="0.65"/>
<line x1="303.4" x2="303.4" y1="450.0" y2="590.6" stroke="#fff" stroke-width="0.65"/>
<line x1="361.6" x2="361.6" y1="450.0" y2="590.6" stroke="#fff" stroke-width="0.65"/>
<line x1="419.5" x2="419.5" y1="450.0" y2="590.6" stroke="#fff" stroke-width="0.65"/>
<line x1="245.7" x2="245.7" y1="575.3" y2="581.0" stroke="#303030" stroke-width="0.65"/>
<line x1="244.7" x2="246.7" y1="575.3" y2="575.3" stroke="#303030" stroke-width="0.65"/>
<line x1="244.7" x2="246.7" y1="581.0" y2="581.0" stroke="#303030" stroke-width="0.65"/>
<line x1="303.4" x2="303.4" y1="525.0" y2="553.4" stroke="#303030" stroke-width="0.65"/>
<line x1="302.4" x2="304.4" y1="525.0" y2="525.0" stroke="#303030" stroke-width="0.65"/>
<line x1="302.4" x2="304.4" y1="553.4" y2="553.4" stroke="#303030" stroke-width="0.65"/>
<line x1="361.6" x2="361.6" y1="511.4" y2="545.5" stroke="#303030" stroke-width="0.65"/>
<line x1="360.6" x2="362.6" y1="511.4" y2="511.4" stroke="#303030" stroke-width="0.65"/>
<line x1="360.6" x2="362.6" y1="545.5" y2="545.5" stroke="#303030" stroke-width="0.65"/>
<line x1="419.5" x2="419.5" y1="492.0" y2="551.4" stroke="#303030" stroke-width="0.65"/>
<line x1="418.5" x2="420.5" y1="492.0" y2="492.0" stroke="#303030" stroke-width="0.65"/>
<line x1="418.5" x2="420.5" y1="551.4" y2="551.4" stroke="#303030" stroke-width="0.65"/>
<line x1="245.7" x2="245.7" y1="580.0" y2="583.5" stroke="#303030" stroke-width="0.65"/>
<line x1="244.7" x2="246.7" y1="580.0" y2="580.0" stroke="#303030" stroke-width="0.65"/>
<line x1="244.7" x2="246.7" y1="583.5" y2="583.5" stroke="#303030" stroke-width="0.65"/>
<line x1="303.4" x2="303.4" y1="568.4" y2="580.5" stroke="#303030" stroke-width="0.65"/>
<line x1="302.4" x2="304.4" y1="568.4" y2="568.4" stroke="#303030" stroke-width="0.65"/>
<line x1="302.4" x2="304.4" y1="580.5" y2="580.5" stroke="#303030" stroke-width="0.65"/>
<line x1="361.6" x2="361.6" y1="456.4" y2="506.0" stroke="#303030" stroke-width="0.65"/>
<line x1="360.6" x2="362.6" y1="456.4" y2="456.4" stroke="#303030" stroke-width="0.65"/>
<line x1="360.6" x2="362.6" y1="506.0" y2="506.0" stroke="#303030" stroke-width="0.65"/>
<line x1="419.5" x2="419.5" y1="490.4" y2="532.8" stroke="#303030" stroke-width="0.65"/>
<line x1="418.5" x2="420.5" y1="490.4" y2="490.4" stroke="#303030" stroke-width="0.65"/>
<line x1="418.5" x2="420.5" y1="532.8" y2="532.8" stroke="#303030" stroke-width="0.65"/>
<line x1="245.7" x2="245.7" y1="582.0" y2="585.0" stroke="#303030" stroke-width="0.65"/>
<line x1="244.7" x2="246.7" y1="582.0" y2="582.0" stroke="#303030" stroke-width="0.65"/>
<line x1="244.7" x2="246.7" y1="585.0" y2="585.0" stroke="#303030" stroke-width="0.65"/>
<line x1="303.4" x2="303.4" y1="579.3" y2="582.3" stroke="#303030" stroke-width="0.65"/>
<line x1="302.4" x2="304.4" y1="579.3" y2="579.3" stroke="#303030" stroke-width="0.65"/>
<line x1="302.4" x2="304.4" y1="582.3" y2="582.3" stroke="#303030" stroke-width="0.65"/>
<line x1="361.6" x2="361.6" y1="556.2" y2="564.6" stroke="#303030" stroke-width="0.65"/>
<line x1="360.6" x2="362.6" y1="556.2" y2="556.2" stroke="#303030" stroke-width="0.65"/>
<line x1="360.6" x2="362.6" y1="564.6" y2="564.6" stroke="#303030" stroke-width="0.65"/>
<line x1="419.5" x2="419.5" y1="535.8" y2="551.4" stroke="#303030" stroke-width="0.65"/>
<line x1="418.5" x2="420.5" y1="535.8" y2="535.8" stroke="#303030" stroke-width="0.65"/>
<line x1="418.5" x2="420.5" y1="551.4" y2="551.4" stroke="#303030" stroke-width="0.65"/>
<polyline points="245.7,583.4 303.4,580.5 361.6,560.3 419.5,541.4" fill="none" stroke="#FF6347" stroke-width="1.1"/>
<circle cx="245.7" cy="583.4" r="1.95" fill="#FF6347"/>
<circle cx="303.4" cy="580.5" r="1.95" fill="#FF6347"/>
<circle cx="361.6" cy="560.3" r="1.95" fill="#FF6347"/>
<circle cx="419.5" cy="541.4" r="1.95" fill="#FF6347"/>
<polyline points="245.7,578.8 303.4,539.2 361.6,528.6 419.5,518.4" fill="none" stroke="#6A5ACD" stroke-width="1.1"/>
<circle cx="245.7" cy="578.8" r="1.95" fill="#6A5ACD"/>
<circle cx="303.4" cy="539.2" r="1.95" fill="#6A5ACD"/>
<circle cx="361.6" cy="528.6" r="1.95" fill="#6A5ACD"/>
<circle cx="419.5" cy="518.4" r="1.95" fill="#6A5ACD"/>
<polyline points="245.7,581.8 303.4,575.7 361.6,481.3 419.5,513.4" fill="none" stroke="#1C78D4" stroke-width="1.1"/>
<circle cx="245.7" cy="581.8" r="1.95" fill="#1C78D4"/>
<circle cx="303.4" cy="575.7" r="1.95" fill="#1C78D4"/>
<circle cx="361.6" cy="481.3" r="1.95" fill="#1C78D4"/>
<circle cx="419.5" cy="513.4" r="1.95" fill="#1C78D4"/>
<rect x="241.0" y="467.8" width="61.9" height="35.8" rx="0.8" fill="#fff" stroke="#4d4d4d" stroke-width="0.9"/>
<rect x="242.9" y="472.5" width="9.7" height="29.1" fill="#F4F4F4"/>
<circle cx="247.8" cy="477.4" r="3.0" fill="#FF6347"/>
<text x="255.6" y="480.9" font-size="8.4" font-weight="bold" fill="#111" stroke="#111" stroke-width="0.12" font-family="Liberation Sans, sans-serif">C57BL/6NJ</text>
<circle cx="247.8" cy="487.1" r="3.0" fill="#6A5ACD"/>
<text x="255.6" y="490.6" font-size="8.4" font-weight="bold" fill="#111" stroke="#111" stroke-width="0.12" font-family="Liberation Sans, sans-serif">Far2</text>
<circle cx="247.8" cy="496.9" r="3.0" fill="#1C78D4"/>
<text x="255.6" y="500.4" font-size="8.4" font-weight="bold" fill="#111" stroke="#111" stroke-width="0.12" font-family="Liberation Sans, sans-serif">Il12rb2</text>
<text transform="translate(245.7,603.0) scale(1.0,1)" font-size="10.9" font-weight="bold" fill="#111" stroke="#111" stroke-width="0.3" text-anchor="middle" font-family="Liberation Sans, sans-serif">10 mg/L</text>
<text transform="translate(303.4,603.0) scale(1.0,1)" font-size="10.9" font-weight="bold" fill="#111" stroke="#111" stroke-width="0.3" text-anchor="middle" font-family="Liberation Sans, sans-serif">20 mg/L</text>
<text transform="translate(361.6,603.0) scale(1.0,1)" font-size="10.9" font-weight="bold" fill="#111" stroke="#111" stroke-width="0.3" text-anchor="middle" font-family="Liberation Sans, sans-serif">40 mg/L</text>
<text transform="translate(419.5,603.0) scale(1.0,1)" font-size="10.9" font-weight="bold" fill="#111" stroke="#111" stroke-width="0.3" text-anchor="middle" font-family="Liberation Sans, sans-serif">80 mg/L</text>
<text x="208.6" y="548.8" font-size="12.6" font-weight="bold" fill="#111" stroke="#111" stroke-width="0.25" text-anchor="end" font-family="Liberation Sans, sans-serif">5</text>
<line x1="209.20000000000002" x2="211.4" y1="544.3" y2="544.3" stroke="#333" stroke-width="0.7"/>
<text x="208.6" y="493.3" font-size="12.6" font-weight="bold" fill="#111" stroke="#111" stroke-width="0.25" text-anchor="end" font-family="Liberation Sans, sans-serif">10</text>
<line x1="209.20000000000002" x2="211.4" y1="488.8" y2="488.8" stroke="#333" stroke-width="0.7"/>
<text transform="translate(190.8,520) rotate(-90)" font-size="12.9" font-weight="bold" fill="#0a0a0a" stroke="#0a0a0a" stroke-width="0.2" text-anchor="middle" font-family="Liberation Sans, sans-serif">Meth (mg/kg)</text>
<text x="333" y="615" font-size="13" font-weight="bold" fill="#0a0a0a" stroke="#0a0a0a" stroke-width="0.2" text-anchor="middle" font-family="Liberation Sans, sans-serif">Dose</text>
</svg>
</body></html>
